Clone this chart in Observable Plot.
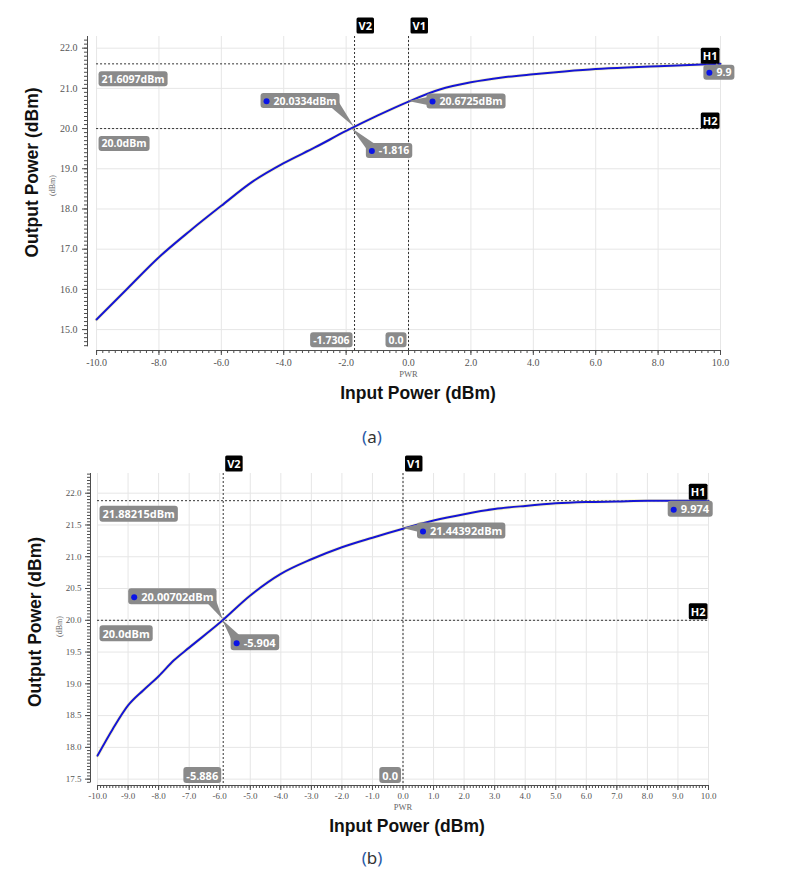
<!DOCTYPE html>
<html>
<head>
<meta charset="utf-8">
<script src="https://cdn.jsdelivr.net/npm/d3@7"></script>
<script src="https://cdn.jsdelivr.net/npm/@observablehq/plot@0.6"></script>
<style>
  html, body { margin: 0; padding: 0; background: #fff; }
  #wrap { position: relative; width: 787px; height: 878px; overflow: hidden; background: #fff; }
  #wrap svg { position: absolute; left: 0; }
  .cap { position: absolute; font-family: "Noto Sans", sans-serif; font-size: 17px; color: #333; transform: translate(-50%, -50%); line-height: 1; white-space: nowrap; }
  .cap .p { color: #2a5aa8; }
</style>
</head>
<body>
<div id="wrap"></div>
<script>
// ---------------- data: panel (a) ----------------
const inputA  = [-10, -9, -8, -7, -6, -5, -4, -3, -2, -1, 0, 1, 2, 3, 4, 5, 6, 7, 8, 9, 10];
const outputA = [15.25, 16.03, 16.80, 17.46, 18.08, 18.68, 19.14, 19.53, 19.94, 20.32, 20.67, 20.97, 21.15, 21.27, 21.35, 21.42, 21.48, 21.52, 21.55, 21.58, 21.61];
const xTicksA = [-10, -8, -6, -4, -2, 0, 2, 4, 6, 8, 10];
const yTicksA = [15, 16, 17, 18, 19, 20, 21, 22];
const vLinesA = [{name: "V2", x: -1.7306, label: "-1.7306"}, {name: "V1", x: 0, label: "0.0"}];
const hLinesA = [{name: "H1", y: 21.6097, label: "21.6097dBm"}, {name: "H2", y: 20.0, label: "20.0dBm"}];
const calloutsA = [
  {x: -1.7306, y: 20.0334, label: "20.0334dBm"},
  {x: -1.816, y: 20.0, label: "-1.816"},
  {x: 0, y: 20.6725, label: "20.6725dBm"},
  {x: 9.9, y: 21.6097, label: "9.9"}
];

// ---------------- data: panel (b) ----------------
const inputB  = [-10, -9.5, -9, -8.5, -8, -7.5, -7, -6, -5, -4, -3, -2, -1, 0, 1, 2, 3, 4, 5, 6, 7, 8, 9, 10];
const outputB = [17.87, 18.29, 18.66, 18.90, 19.12, 19.37, 19.57, 19.96, 20.39, 20.73, 20.96, 21.15, 21.30, 21.44, 21.57, 21.67, 21.75, 21.80, 21.84, 21.86, 21.87, 21.88, 21.88, 21.88];
const xTicksB = [-10, -9, -8, -7, -6, -5, -4, -3, -2, -1, 0, 1, 2, 3, 4, 5, 6, 7, 8, 9, 10];
const yTicksB = [17.5, 18.0, 18.5, 19.0, 19.5, 20.0, 20.5, 21.0, 21.5, 22.0];
const vLinesB = [{name: "V2", x: -5.886, label: "-5.886"}, {name: "V1", x: 0, label: "0.0"}];
const hLinesB = [{name: "H1", y: 21.88215, label: "21.88215dBm"}, {name: "H2", y: 20.0, label: "20.0dBm"}];
const calloutsB = [
  {x: -5.886, y: 20.00702, label: "20.00702dBm"},
  {x: -5.904, y: 20.0, label: "-5.904"},
  {x: 0, y: 21.44392, label: "21.44392dBm"},
  {x: 9.974, y: 21.88215, label: "9.974"}
];

const xTitle = "Input Power (dBm)";
const yTitle = "Output Power (dBm)";
const yUnit = "(dBm)";
const xUnit = "PWR";
const captions = ["a", "b"];

// ---------------- layout / style ----------------
const NS = "http://www.w3.org/2000/svg";
const fmt1 = d => d.toFixed(1);

const layoutA = {
  top: 0, width: 787, height: 410,
  marginLeft: 87, marginRight: 67, marginTop: 36, marginBottom: 60,
  xDomain: [-10.29, 10], yDomain: [14.48, 22.29], yAxisBottom: 14.57,
  xMinor: d3.range(-50, 51).map(v => v / 5),
  yMinor: d3.range(146, 223).map(v => v / 10),
  tickFont: 10, xTickPad: 3, yTickPad: 5, labelFont: 10.5, markFont: 11,
  yTitle: [-55, -21], yUnit: [-35, -8], xTitle: [14, 43], pwr: 24,
  vLabelDy: -10, hLabelDy: -7, leftDy: 15.5, bottomDy: -10,
  calloutOffsets: [[-81, -26], [27, 22.5], [31, 0], [-1, 9]]
};
const layoutB = {
  top: 440, width: 787, height: 410,
  marginLeft: 90, marginRight: 79, marginTop: 33, marginBottom: 65,
  xDomain: [-10.23, 10], yDomain: [17.40, 22.31], yAxisBottom: 17.44,
  xMinor: d3.range(-100, 101).map(v => v / 10),
  yMinor: d3.range(349, 447).map(v => v / 20),
  tickFont: 9, xTickPad: 2, yTickPad: 4, labelFont: 11, markFont: 11,
  yTitle: [-55, -7.5], yUnit: [-31.5, -3], xTitle: [7.5, 41], pwr: 22,
  vLabelDy: -9, hLabelDy: -8, leftDy: 14, bottomDy: -9.5,
  calloutOffsets: [[-82, -22.5], [21, 23], [27, 3], [-27, 9]]
};

const GRID = "#e6e6e6", AXIS = "#4d4d4d", TICKTXT = "#555", GRAYBOX = "#8a8a8a";
const SERIF = "Liberation Serif";

function buildPanel(inputs, outputs, xTicks, yTicks, vLines, hLines, callouts, L) {
  const data = inputs.map((x, i) => ({x, y: outputs[i]}));
  const x0 = xTicks[0], x1 = xTicks[xTicks.length - 1];
  const labelStyle = {fontFamily: "Open Sans", fontWeight: "bold", fill: "white"};
  const rotated = {frameAnchor: "left", rotate: -90, textAnchor: "middle", lineAnchor: "middle"};
  const marks = [
    Plot.gridX(xTicks, {stroke: GRID, strokeOpacity: 1}),
    Plot.ruleY(yTicks, {x1: x0, x2: x1, stroke: GRID}),
    // axis lines
    Plot.ruleX([L.xDomain[0]], {y1: L.yAxisBottom, y2: L.yDomain[1], stroke: AXIS}),
    Plot.ruleY([L.yDomain[0]], {x1: x0, x2: x1, stroke: AXIS}),
    // ticks
    Plot.axisX(L.xMinor, {tickSize: 3, tickFormat: () => "", color: AXIS, label: null}),
    Plot.axisX(xTicks, {tickSize: 5, tickPadding: L.xTickPad, tickFormat: fmt1, color: TICKTXT, stroke: AXIS, fontSize: L.tickFont, fontFamily: SERIF, label: null}),
    Plot.axisY(L.yMinor, {tickSize: 3, tickFormat: () => "", color: AXIS, label: null}),
    Plot.axisY(yTicks, {tickSize: 5, tickPadding: L.yTickPad, tickFormat: fmt1, color: TICKTXT, stroke: AXIS, fontSize: L.tickFont, fontFamily: SERIF, label: null}),
    // titles
    Plot.text([yTitle], {text: d => d, ...rotated, dx: L.yTitle[0], dy: L.yTitle[1], fontFamily: "Liberation Sans", fontWeight: "bold", fontSize: 17.5, fill: "#111"}),
    Plot.text([yUnit], {text: d => d, ...rotated, dx: L.yUnit[0], dy: L.yUnit[1], fontFamily: SERIF, fontSize: 8, fill: "#666"}),
    Plot.text([xTitle], {text: d => d, frameAnchor: "bottom", lineAnchor: "middle", dx: L.xTitle[0], dy: L.xTitle[1], fontFamily: "Liberation Sans", fontWeight: "bold", fontSize: 17.5, fill: "#111"}),
    Plot.text([0], {x: d => d, text: () => xUnit, frameAnchor: "bottom", lineAnchor: "middle", dy: L.pwr, fontFamily: SERIF, fontSize: 8.5, fill: "#666"}),
    // marker lines
    Plot.ruleX(vLines, {x: "x", stroke: "#333", strokeDasharray: "2,2"}),
    Plot.ruleY(hLines, {y: "y", x1: x0, x2: x1, stroke: "#333", strokeDasharray: "2,2"}),
    // curve
    Plot.line(data, {x: "x", y: "y", stroke: "#f0ec9c", strokeWidth: 3.6, strokeOpacity: 0.55, curve: "monotone-x"}),
    Plot.line(data, {x: "x", y: "y", stroke: "#1515d5", strokeWidth: 2, curve: "monotone-x"}),
    // marker value boxes
    Plot.text(hLines, {x: () => x0, y: "y", text: "label", textAnchor: "start", dx: 5, dy: L.leftDy, fontSize: L.labelFont, ...labelStyle, ariaDescription: "graybox", className: "graybox"}),
    Plot.text(vLines, {x: "x", y: () => L.yDomain[0], text: "label", textAnchor: "end", dx: -5, dy: L.bottomDy, fontSize: L.labelFont, ...labelStyle, ariaDescription: "graybox", className: "graybox"}),
    Plot.text(vLines, {x: "x", y: () => L.yDomain[1], text: "name", textAnchor: "start", dx: 4, dy: L.vLabelDy, fontSize: L.markFont, ...labelStyle, ariaDescription: "blackbox", className: "blackbox"}),
    Plot.text(hLines, {x: () => x1, y: "y", text: "name", textAnchor: "end", dx: -3, dy: L.hLabelDy, fontSize: L.markFont, ...labelStyle, ariaDescription: "blackbox", className: "blackbox"})
  ];
  callouts.forEach((c, i) => {
    const [odx, ody] = L.calloutOffsets[i];
    marks.push(Plot.text([c], {x: "x", y: "y", text: "label", textAnchor: "start", dx: odx, dy: ody, fontSize: L.labelFont, ...labelStyle, ariaDescription: "callout" + i, className: "callout" + i}));
  });
  callouts.forEach((c, i) => {
    const [odx, ody] = L.calloutOffsets[i];
    marks.push(Plot.dot([c], {x: "x", y: "y", dx: odx - 7, dy: ody, r: 3, fill: "#0a14e6"}));
  });

  const plot = Plot.plot({
    width: L.width, height: L.height,
    marginLeft: L.marginLeft, marginRight: L.marginRight, marginTop: L.marginTop, marginBottom: L.marginBottom,
    x: {domain: L.xDomain},
    y: {domain: L.yDomain},
    style: {fontFamily: SERIF, fontSize: "10px", background: "transparent", overflow: "visible"},
    marks
  });
  plot.style.top = L.top + "px";
  return plot;
}

function scaleFn(plot, name) {
  const s = plot.scale(name);
  if (s && typeof s.apply === "function") return v => s.apply(v);
  return d3.scaleLinear(s.domain, s.range);
}

function groupsFor(svg, key) {
  const set = new Set([...svg.querySelectorAll(`g[aria-description="${key}"], g.${key}`)]);
  return [...set].filter(g => g.querySelector("text"));
}

function addBoxes(svg, key, fill, padL, padR, padY, rx) {
  const o = svg.getBoundingClientRect();
  groupsFor(svg, key).forEach(g => {
    const bg = document.createElementNS(NS, "g");
    g.querySelectorAll("text").forEach(t => {
      const b = t.getBoundingClientRect();
      const r = document.createElementNS(NS, "rect");
      r.setAttribute("x", b.left - o.left - padL);
      r.setAttribute("y", b.top - o.top - padY);
      r.setAttribute("width", b.width + padL + padR);
      r.setAttribute("height", b.height + 2 * padY);
      r.setAttribute("rx", rx);
      r.setAttribute("fill", fill);
      bg.appendChild(r);
    });
    g.parentNode.insertBefore(bg, g);
  });
}

function addCallouts(svg, plot, callouts) {
  const o = svg.getBoundingClientRect();
  const fx = scaleFn(plot, "x"), fy = scaleFn(plot, "y");
  callouts.forEach((c, i) => {
    const g = groupsFor(svg, "callout" + i)[0];
    if (!g) return;
    const t = g.querySelector("text");
    const b = t.getBoundingClientRect();
    const Lx = b.left - o.left - 13, Rx = b.right - o.left + 3;
    const Ty = b.top - o.top - 0.5, By = b.bottom - o.top + 0.5;
    const ax = fx(c.x), ay = fy(c.y);
    const cx = Math.max(Lx + 6, Math.min(Rx - 6, ax));
    const cy = Math.max(Ty + 5, Math.min(By - 5, ay));
    const vx = ax - cx, vy = ay - cy, len = Math.hypot(vx, vy) || 1;
    const px = -vy / len * 5, py = vx / len * 5;
    const bg = document.createElementNS(NS, "g");
    const tail = document.createElementNS(NS, "polygon");
    tail.setAttribute("points", `${ax},${ay} ${cx + px},${cy + py} ${cx - px},${cy - py}`);
    tail.setAttribute("fill", GRAYBOX);
    bg.appendChild(tail);
    const r = document.createElementNS(NS, "rect");
    r.setAttribute("x", Lx); r.setAttribute("y", Ty);
    r.setAttribute("width", Rx - Lx); r.setAttribute("height", By - Ty);
    r.setAttribute("rx", 3); r.setAttribute("fill", GRAYBOX);
    bg.appendChild(r);
    g.parentNode.insertBefore(bg, g);
  });
}

const wrap = document.getElementById("wrap");
const panels = [
  [inputA, outputA, xTicksA, yTicksA, vLinesA, hLinesA, calloutsA, layoutA],
  [inputB, outputB, xTicksB, yTicksB, vLinesB, hLinesB, calloutsB, layoutB]
];
panels.forEach(args => {
  const svg = buildPanel(...args);
  wrap.appendChild(svg);
  addBoxes(svg, "graybox", GRAYBOX, 3, 3, 0.5, 3);
  addBoxes(svg, "blackbox", "#000", 2, 2, 0.5, 1.5);
  addCallouts(svg, svg, args[6]);
});

const capPos = [[372, 436], [372, 857]];
captions.forEach((c, i) => {
  const d = document.createElement("div");
  d.className = "cap";
  const open = document.createElement("span");
  open.className = "p"; open.textContent = "(";
  const close = document.createElement("span");
  close.className = "p"; close.textContent = ")";
  d.appendChild(open);
  d.appendChild(document.createTextNode(c));
  d.appendChild(close);
  d.style.left = capPos[i][0] + "px";
  d.style.top = capPos[i][1] + "px";
  wrap.appendChild(d);
});
</script>
</body>
</html>
